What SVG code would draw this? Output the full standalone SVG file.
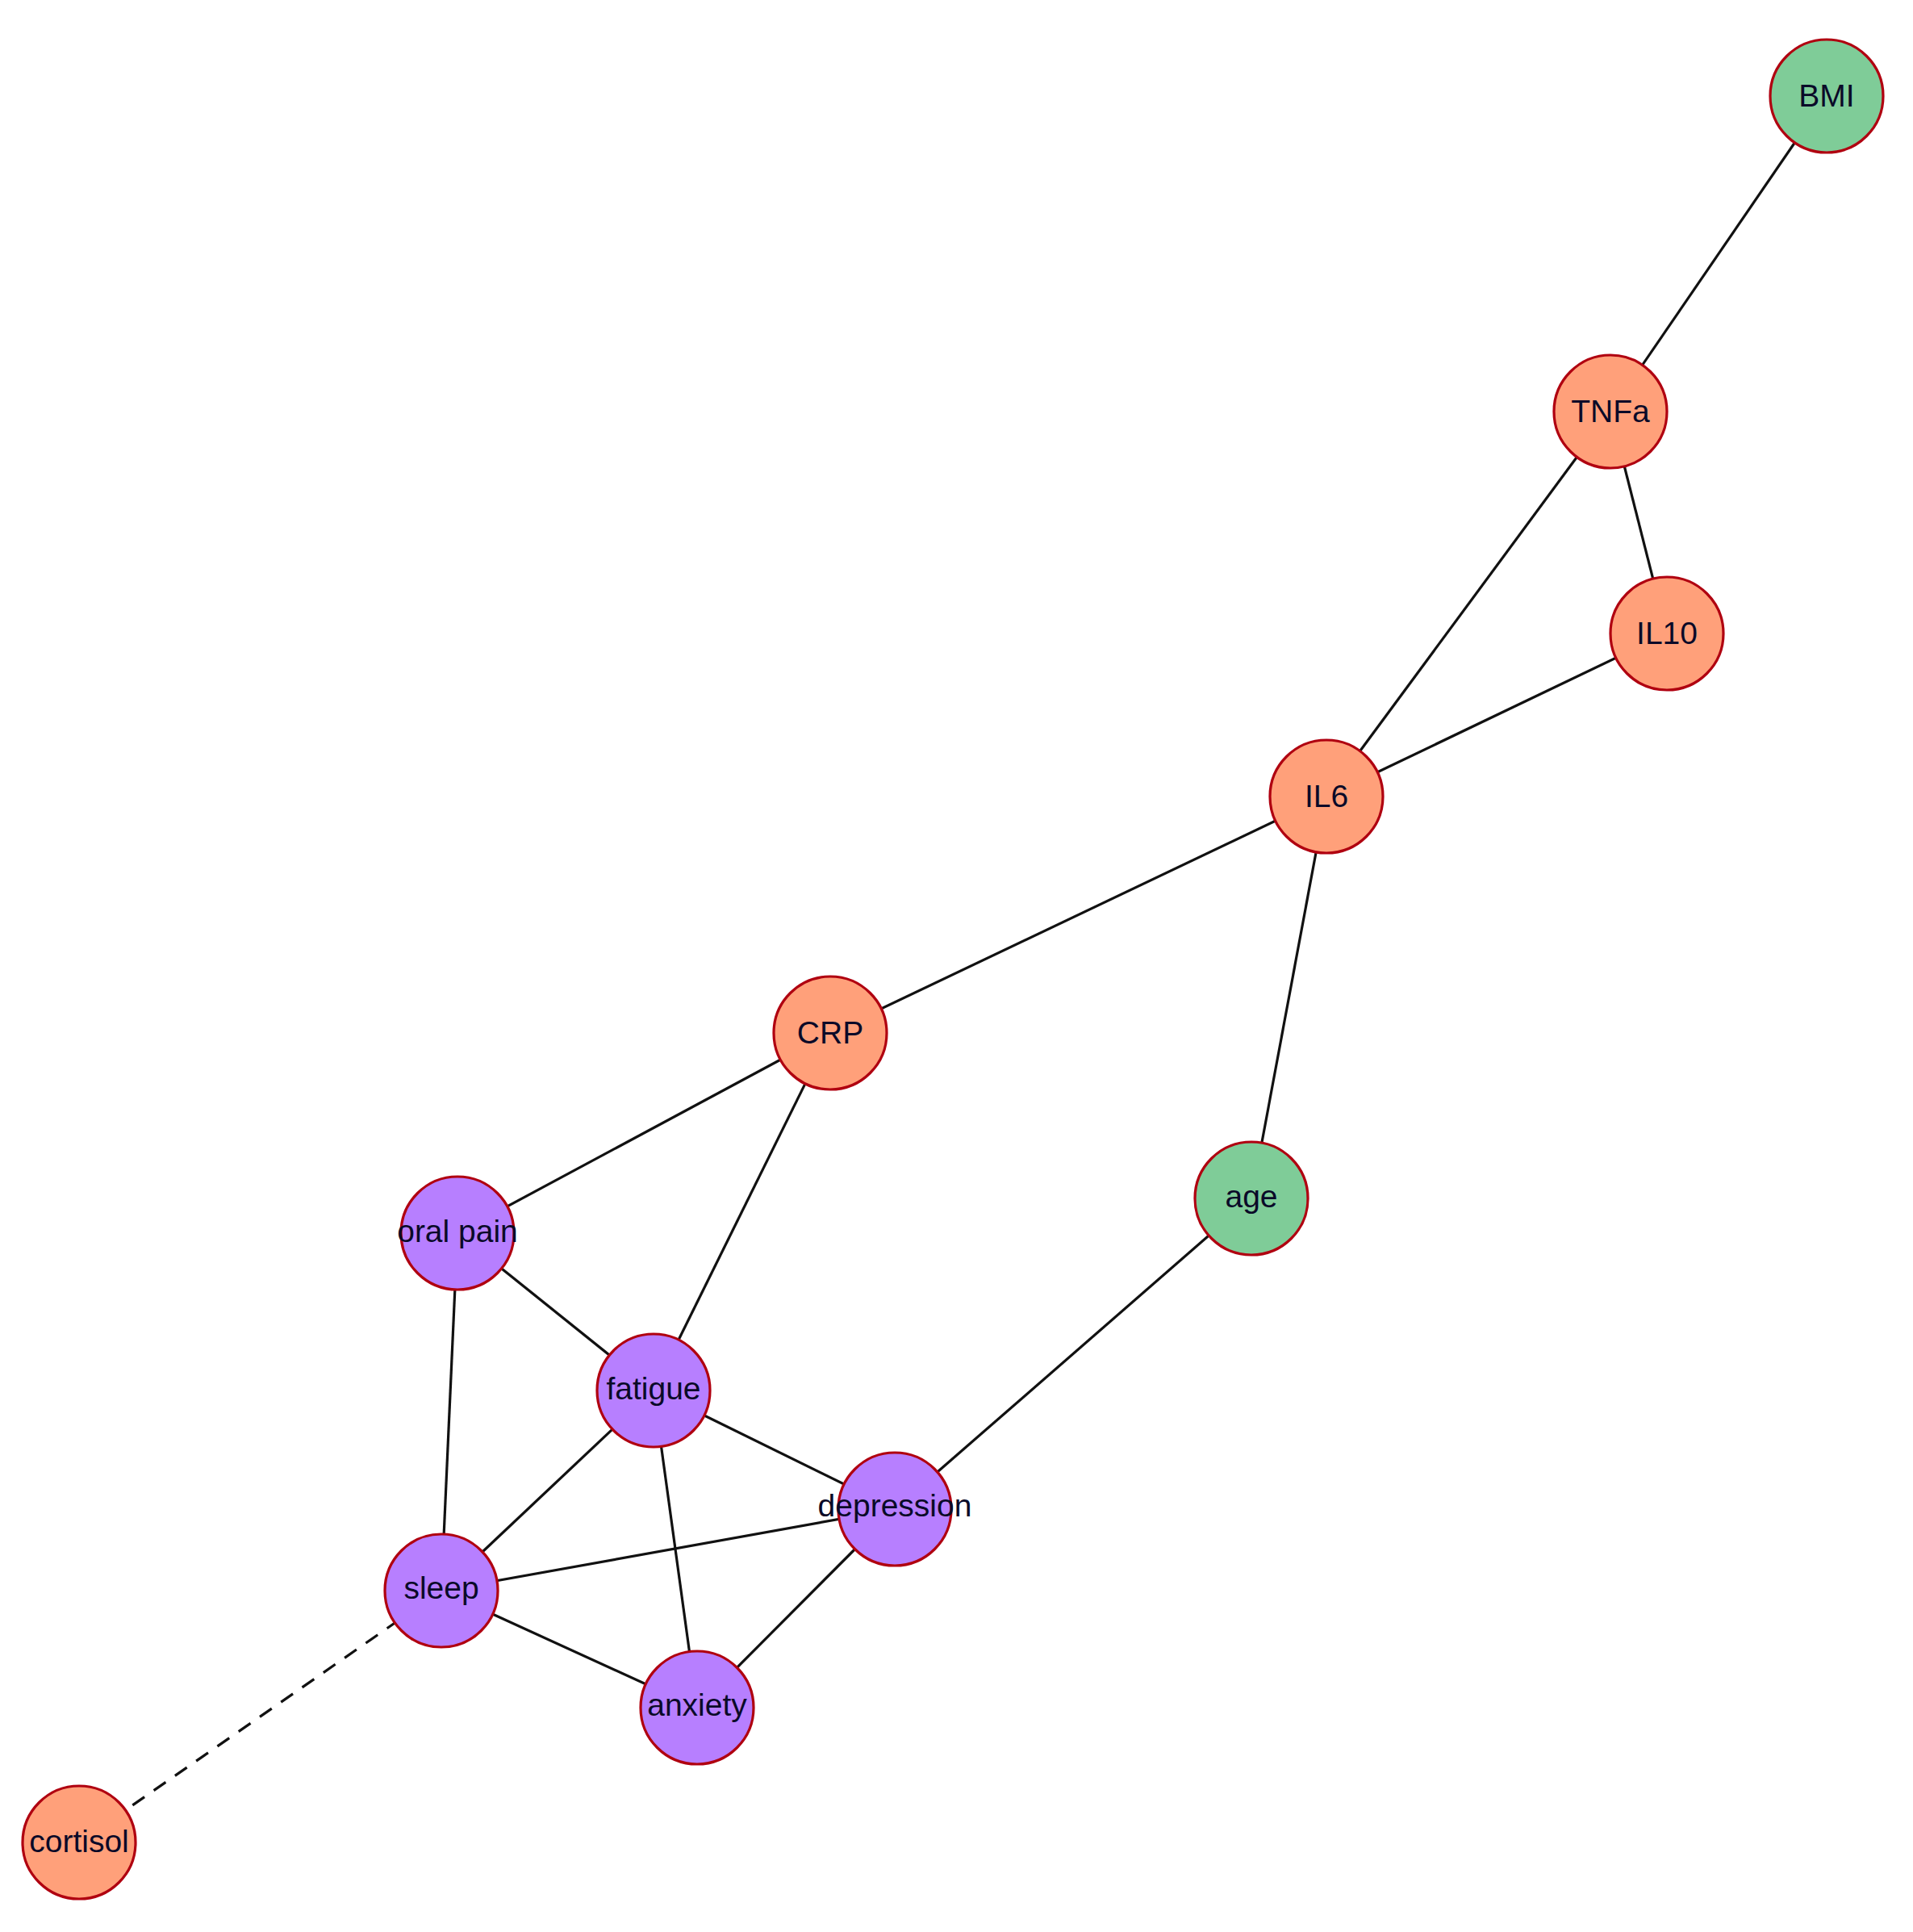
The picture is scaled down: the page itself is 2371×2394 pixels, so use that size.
<svg xmlns="http://www.w3.org/2000/svg" width="2371" height="2394" viewBox="0 0 2371 2394">
<style>
.e{stroke:#111;stroke-width:3.2;fill:none}
.d{stroke-dasharray:18 14}
.n circle{stroke:#B00010;stroke-width:3.2}
.o circle{fill:#FFA07A}
.g circle{fill:#7FCC98}
.p circle{fill:#B77FFF}
.n text{font-family:"Liberation Sans",Arial,sans-serif;font-size:39px;fill:#0a0a28;text-anchor:middle}
</style>
<rect width="2371" height="2394" fill="#fff"/>
<g id="edges">
<line class="e" x1="2264" y1="119" x2="1996" y2="510"/>
<line class="e" x1="1996" y1="510" x2="2066" y2="785"/>
<line class="e" x1="1996" y1="510" x2="1644" y2="987"/>
<line class="e" x1="2066" y1="785" x2="1644" y2="987"/>
<line class="e" x1="1644" y1="987" x2="1029" y2="1280"/>
<line class="e" x1="1644" y1="987" x2="1551" y2="1485"/>
<line class="e" x1="1029" y1="1280" x2="567" y2="1528"/>
<line class="e" x1="1029" y1="1280" x2="810" y2="1723"/>
<line class="e" x1="1551" y1="1485" x2="1109" y2="1870"/>
<line class="e" x1="567" y1="1528" x2="810" y2="1723"/>
<line class="e" x1="567" y1="1528" x2="547" y2="1971"/>
<line class="e" x1="810" y1="1723" x2="547" y2="1971"/>
<line class="e" x1="810" y1="1723" x2="1109" y2="1870"/>
<line class="e" x1="810" y1="1723" x2="864" y2="2116"/>
<line class="e" x1="1109" y1="1870" x2="547" y2="1971"/>
<line class="e" x1="1109" y1="1870" x2="864" y2="2116"/>
<line class="e" x1="547" y1="1971" x2="864" y2="2116"/>
<line class="e d" x1="547" y1="1971" x2="98" y2="2283"/>
</g>
<g id="BMI" class="n g"><circle cx="2264" cy="119" r="70"/><text x="2264" y="132">BMI</text></g>
<g id="TNFa" class="n o"><circle cx="1996" cy="510" r="70"/><text x="1996" y="523">TNFa</text></g>
<g id="IL10" class="n o"><circle cx="2066" cy="785" r="70"/><text x="2066" y="798">IL10</text></g>
<g id="IL6" class="n o"><circle cx="1644" cy="987" r="70"/><text x="1644" y="1000">IL6</text></g>
<g id="CRP" class="n o"><circle cx="1029" cy="1280" r="70"/><text x="1029" y="1293">CRP</text></g>
<g id="age" class="n g"><circle cx="1551" cy="1485" r="70"/><text x="1551" y="1496">age</text></g>
<g id="oral_pain" class="n p"><circle cx="567" cy="1528" r="70"/><text x="567" y="1539">oral pain</text></g>
<g id="fatigue" class="n p"><circle cx="810" cy="1723" r="70"/><text x="810" y="1734">fatigue</text></g>
<g id="depression" class="n p"><circle cx="1109" cy="1870" r="70"/><text x="1109" y="1879">depression</text></g>
<g id="sleep" class="n p"><circle cx="547" cy="1971" r="70"/><text x="547" y="1981">sleep</text></g>
<g id="anxiety" class="n p"><circle cx="864" cy="2116" r="70"/><text x="864" y="2126">anxiety</text></g>
<g id="cortisol" class="n o"><circle cx="98" cy="2283" r="70"/><text x="98" y="2295">cortisol</text></g>
</svg>
